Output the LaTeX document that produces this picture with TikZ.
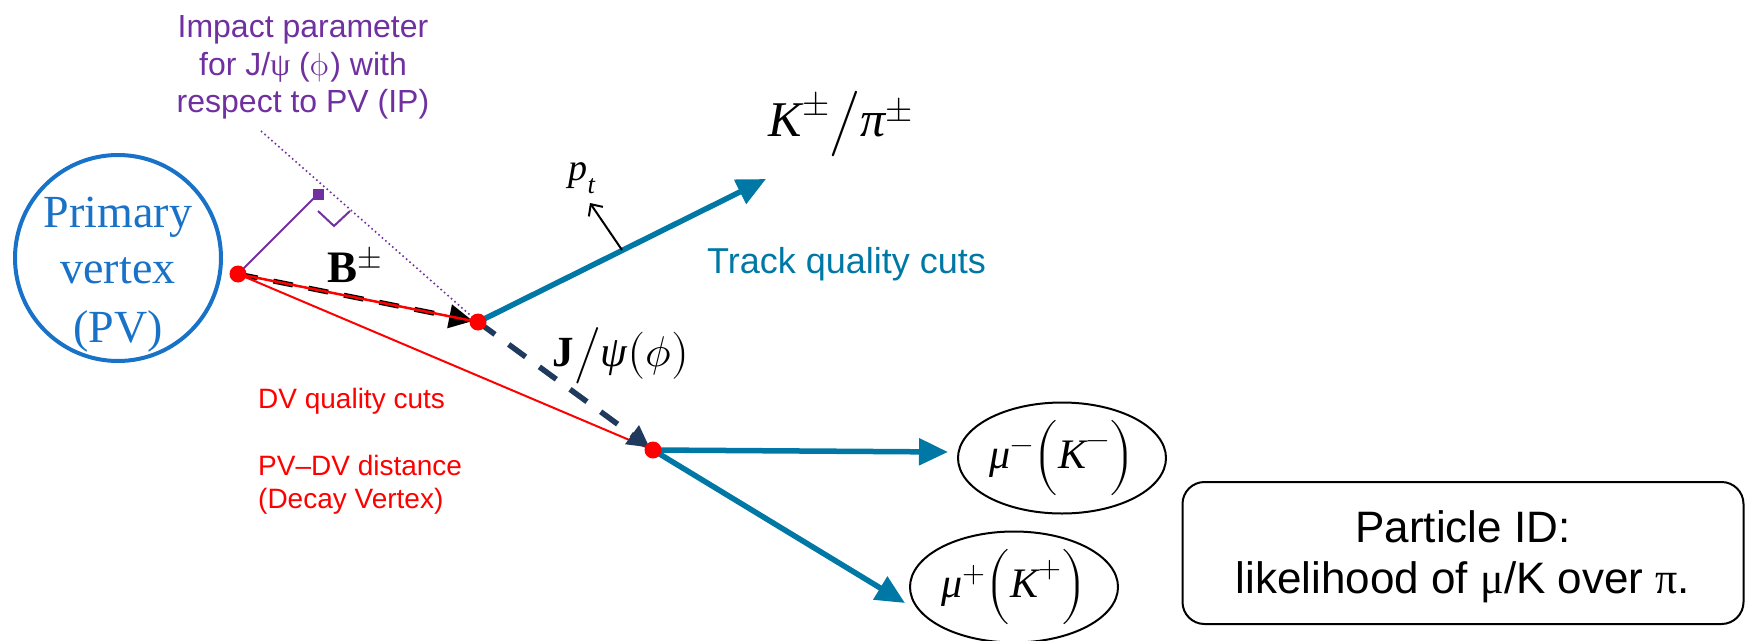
\documentclass[tikz,border=0pt]{standalone}
\usepackage{amsmath}
\usepackage{unicode-math}
\setmainfont{Liberation Serif}
\newfontfamily\arial{Liberation Sans}
\usetikzlibrary{arrows.meta,shapes.geometric}
\definecolor{pvblue}{RGB}{24,114,200}
\definecolor{ipurple}{RGB}{112,48,160}
\definecolor{trackteal}{RGB}{0,120,165}
\definecolor{jnavy}{RGB}{31,58,92}
\newcommand\fsz[1]{\fontsize{#1}{#1}\selectfont}
\begin{document}
\begin{tikzpicture}[x=1pt,y=-1pt,
  pvtext/.style={text=pvblue,font=\fsz{46},inner sep=0pt,anchor=base},
  iptext/.style={text=ipurple,font=\arial\fsz{32},inner sep=0pt,anchor=base},
  dvtext/.style={text=red,font=\arial\fsz{28},inner sep=0pt,anchor=base west},
  pidtext/.style={text=black,font=\arial\fsz{44},inner sep=0pt,anchor=base},
  vdot/.style={circle,fill=red,inner sep=0pt,minimum size=17pt},
  track/.style={draw=trackteal,line width=5.5pt,-{Triangle[length=29pt,width=26pt]}},
  partell/.style={ellipse,draw=black,line width=2pt,minimum width=208pt,minimum height=111pt,inner sep=0pt,font=\fsz{42}},
  bdash/.style={draw=black,line width=5pt,dash pattern=on 20pt off 16pt,-{Triangle[length=24pt,width=23pt]}},
  jdash/.style={draw=jnavy,line width=5.5pt,dash pattern=on 21pt off 17pt,-{Triangle[length=22pt,width=22pt]}},
]
\useasboundingbox (0,0) rectangle (1748,640);

% key points
\coordinate (pv0) at (238,274);
\coordinate (b0) at (478,322);
\coordinate (dv0) at (653,450);
\coordinate (ktip) at (766,179);
\coordinate (mumtip) at (948,452);
\coordinate (muptip) at (905,603);
\coordinate (ptbase) at (622,250);
\coordinate (pttip) at (590,203);
\coordinate (ipline) at (261,131);
\coordinate (ra1) at (318,211);
\coordinate (ra2) at (334,226);
\coordinate (ra3) at (350,211);

% primary vertex
\node[circle,draw=pvblue,line width=4pt,minimum size=206pt,inner sep=0pt] (pv) at (118,258) {};
\node[pvtext] (pvA) at (118,227) {Primary};
\node[pvtext] (pvB) at (118,283) {vertex};
\node[pvtext] (pvC) at (118,342) {(PV)};

% impact parameter
\node[iptext] (ipA) at (303,37) {Impact parameter};
\node[iptext] (ipB) at (303,75) {for J/{\rmfamily ψ} ($\upphi$) with};
\node[iptext] (ipC) at (303,112) {respect to PV (IP)};
\draw[ipurple,line width=1.6pt,dash pattern=on 1.6pt off 3pt] (ipline) -- (b0);
\node[fill=ipurple,minimum size=11pt,inner sep=0pt] (ipsq) at (318,194) {};
\draw[ipurple,line width=2pt] (pv0) -- (ipsq.center);
\draw[ipurple,line width=2pt] (ra1) -- (ra2) -- (ra3);

% B meson
\draw[bdash,shorten >=5pt] (pv0) -- (b0);
\draw[red,line width=2.5pt] (pv0) -- (b0);
\draw[red,line width=2pt] (pv0) -- (dv0);
\node[font=\fsz{45}\bfseries,inner sep=0pt,anchor=base west] (blab) at (327,282) {B$^{\pm}$};

% K/pi track
\draw[track] (b0) -- (ktip);
\draw[line width=2pt,-{Straight Barb[length=9pt,width=17pt]}] (ptbase) -- (pttip);
\node[font=\fsz{38},inner sep=0pt] (ptlab) at (582,178) {$\textit{p}_{\textit{t}}$};
\node[font=\fsz{50},inner sep=0pt] (klab) at (841,124) {$\textit{K}^{\pm}\big/\textit{π}^{\pm}$};
\node[text=trackteal,font=\arial\fsz{36},inner sep=0pt,anchor=base west] (tqc) at (707,273) {Track quality cuts};

% J/psi
\draw[jdash,shorten >=4pt] (b0) -- (dv0);
\node[font=\fsz{43},inner sep=0pt] (jlab) at (621,356) {$\textbf{J}\big/\textit{ψ}\big(\phi\big)$};

% DV labels
\node[dvtext] (dvA) at (258,408) {DV quality cuts};
\node[dvtext] (dvB) at (258,475) {PV–DV distance};
\node[dvtext] (dvC) at (258,508) {(Decay Vertex)};

% daughters
\node[partell] (mum) at (1062,458) {$\textit{μ}^{-}\Big(\textit{K}^{-}\Big)$};
\node[partell] (mup) at (1014,587) {$\textit{μ}^{+}\Big(\textit{K}^{+}\Big)$};
\draw[track] (dv0) -- (mumtip);
\draw[track] (dv0) -- (muptip);

% particle ID box
\node[draw=black,line width=2pt,rounded corners=22pt,minimum width=561pt,minimum height=142pt,inner sep=0pt] (pid) at (1463,553) {};
\node[pidtext] (pidA) at (1463,542) {Particle ID:};
\node[pidtext] (pidB) at (1463,593) {likelihood of {\rmfamily μ}/K over {\rmfamily π}.};

% vertices
\node[vdot] (pvdot) at (pv0) {};
\node[vdot] (bdot) at (b0) {};
\node[vdot] (dvdot) at (dv0) {};
\end{tikzpicture}
\end{document}
